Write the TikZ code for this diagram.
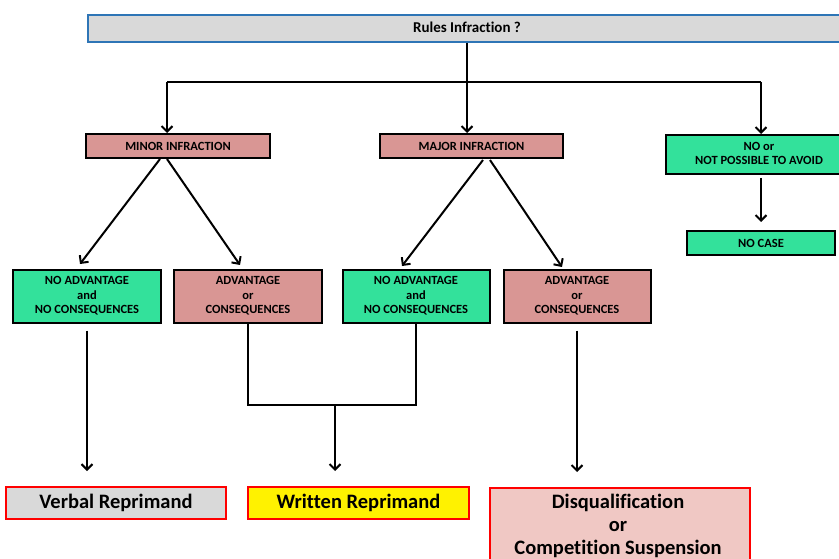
\documentclass[tikz,border=0pt]{standalone}
\usepackage{fontspec}
\setmainfont{Carlito}[Ligatures=NoCommon]
\usetikzlibrary{arrows.meta}
\definecolor{pinkbox}{HTML}{D99694}
\definecolor{greenbox}{HTML}{33E19B}
\definecolor{graybox}{HTML}{D9D9D9}
\definecolor{lightpink}{HTML}{F0C8C4}
\definecolor{topblue}{HTML}{2E75B6}
\tikzset{
  smallbox/.style={draw=black, line width=2pt, align=center, inner sep=0pt,
    font=\bfseries\fontsize{12.5}{14.5}\selectfont},
  pinkb/.style={smallbox, fill=pinkbox},
  greenb/.style={smallbox, fill=greenbox},
  resultb/.style={draw=red, line width=2pt, align=center, inner sep=0pt,
    font=\bfseries\fontsize{20.5}{23}\selectfont},
  conn/.style={line width=2pt, draw=black},
  arr/.style={conn, -{Straight Barb[length=5.5pt,width=11pt,line width=2pt]}},
}
\begin{document}
\begin{tikzpicture}[x=1pt,y=-1pt]
\useasboundingbox (0,0) rectangle (839,559);
\clip (0,0) rectangle (839,559);
% top
\node[draw=topblue, fill=graybox, line width=2pt, minimum width=780pt, minimum height=27pt,
  anchor=north west, inner sep=0pt] (top) at (87,14) {};
\node[font=\bfseries\fontsize{15}{17}\selectfont] (toptext) at (467,27.5) {Rules Infraction ?};
% level 1
\node[pinkb, minimum width=184pt, minimum height=24pt] (minor) at (178,146) {MINOR INFRACTION};
\node[pinkb, minimum width=183pt, minimum height=24pt] (major) at (471.5,146) {MAJOR INFRACTION};
\node[greenb, minimum width=200pt, minimum height=39pt, anchor=north west] (noavoid) at (665,134) {};
\node[font=\bfseries\fontsize{12.5}{14.5}\selectfont, align=center] (noavoidtext) at (759,153.5) {NO or\\NOT POSSIBLE TO AVOID};
\node[greenb, minimum width=148pt, minimum height=24pt] (nocase) at (761,243) {NO CASE};
% level 2
\node[greenb, minimum width=148pt, minimum height=53pt] (b1) at (87,296) {NO ADVANTAGE\\and\\NO CONSEQUENCES};
\node[pinkb, minimum width=148pt, minimum height=53pt] (b2) at (248,296) {ADVANTAGE\\or\\CONSEQUENCES};
\node[greenb, minimum width=147pt, minimum height=53pt] (b3) at (416,296) {NO ADVANTAGE\\and\\NO CONSEQUENCES};
\node[pinkb, minimum width=147pt, minimum height=53pt] (b4) at (577,296) {ADVANTAGE\\or\\CONSEQUENCES};
% results
\node[resultb, fill=graybox, minimum width=220pt, minimum height=32pt] (verbal) at (116,503) {Verbal Reprimand};
\node[resultb, fill=yellow, minimum width=221pt, minimum height=32pt] (written) at (358.5,503) {Written Reprimand};
\node[resultb, fill=lightpink, minimum width=260pt, minimum height=80pt, anchor=north] (disq) at (620,487) {};
\node[font=\bfseries\fontsize{20.5}{23}\selectfont, align=center, anchor=north] (disqtext) at (618,491) {Disqualification\\or\\Competition Suspension};
% coordinates
\coordinate (split) at (467,82);
\coordinate (sl) at (167,82);
\coordinate (sr) at (761,82);
\coordinate (j2) at (248,405);
\coordinate (j3) at (416,405);
\coordinate (jm) at (335,405);
% connectors
\draw[arr] (top.south -| split) -- (major.north -| split);
\draw[conn] (sl) -- (sr);
\draw[arr] (sl) -- (minor.north -| sl);
\draw[arr] (sr) -- (noavoid.north -| sr);
\draw[arr] ([yshift=-3pt]noavoid.south -| sr) -- ([yshift=8pt]nocase.north);
\draw[arr] (160,159) -- (80,264);
\draw[arr] (167,159) -- (240,265);
\draw[arr] (483,160) -- (402,266);
\draw[arr] (490,160) -- (562,267);
\draw[arr] ([yshift=-7pt]b1.south) -- ([yshift=15pt]verbal.north -| b1.south);
\draw[conn] (b2.south) -- (j2) -- (j3) -- (b3.south);
\draw[arr] (jm) -- ([yshift=15pt]written.north -| jm);
\draw[arr] ([yshift=-7pt]b4.south) -- ([yshift=15pt]disq.north -| b4.south);
\end{tikzpicture}
\end{document}
